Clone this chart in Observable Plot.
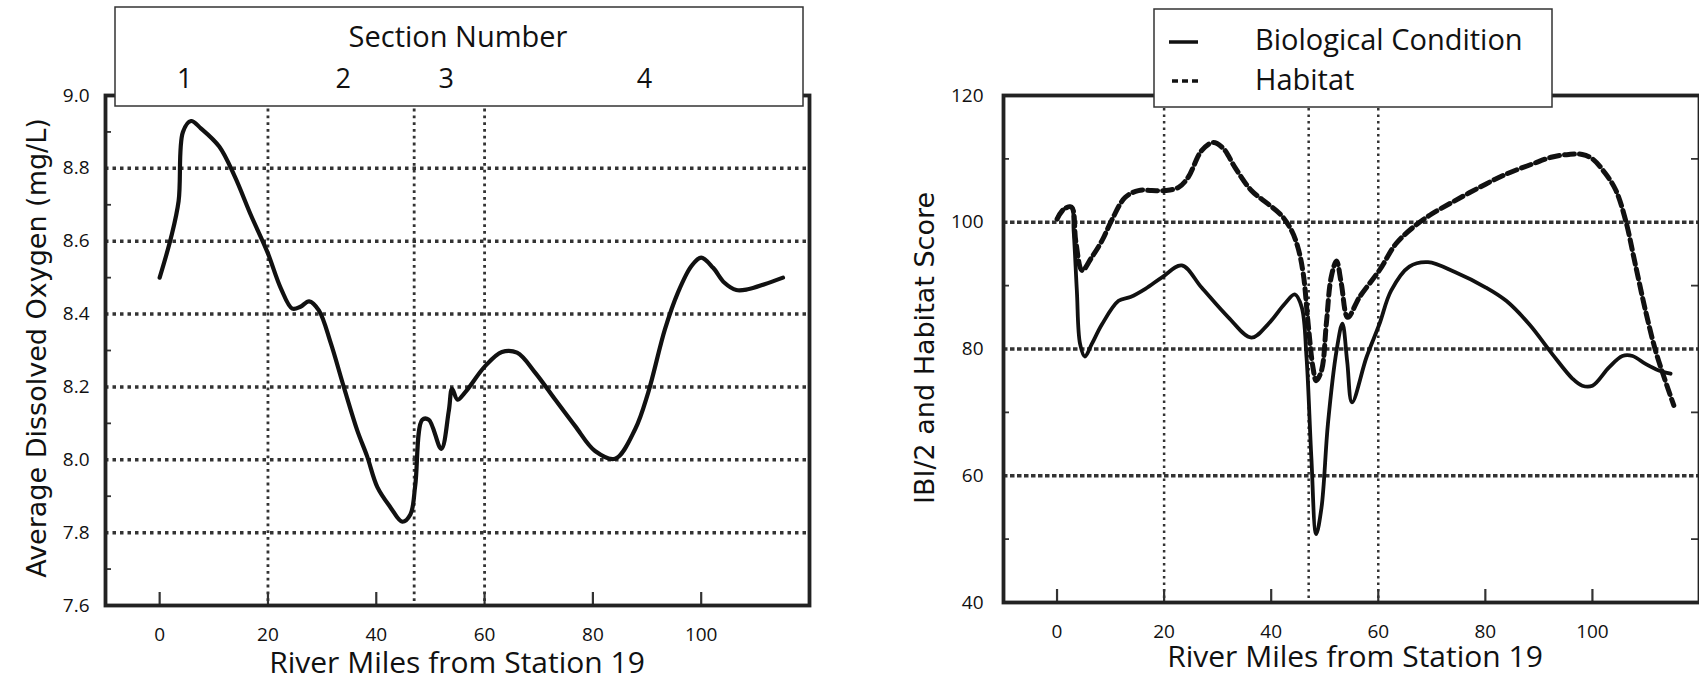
<!DOCTYPE html>
<html><head><meta charset="utf-8">
<script src="https://cdn.jsdelivr.net/npm/d3@7"></script>
<script src="https://cdn.jsdelivr.net/npm/@observablehq/plot@0.6"></script>
<style>
html,body{margin:0;padding:0;background:#fff;}
#wrap{position:relative;width:1699px;height:680px;overflow:hidden;background:#fff;}
#left,#right,#overlay{position:absolute;top:0;}
#left{left:0}
#right{left:850px}
#overlay{left:0;pointer-events:none}
#left svg text, #right svg text{font-size:19px !important;font-family:'Open Sans',sans-serif !important;fill:#111;}
</style></head>
<body>
<div id="wrap"><div id="left"></div><div id="right"></div><svg id="overlay" width="1699" height="680"></svg></div>
<script>
// ---- Data ----
const xTickValues = [0, 20, 40, 60, 80, 100];
const sectionBounds = [20, 47, 60];
const sectionLabels = ["1", "2", "3", "4"];
const sectionLabelMiles = [4.7, 34, 53, 89.6];

// Left chart: Average dissolved oxygen
const doTicks = [7.6, 7.8, 8.0, 8.2, 8.4, 8.6, 8.8, 9.0];
const doGrid = [7.8, 8.0, 8.2, 8.4, 8.6, 8.8];
const doMinorTicks = [7.7, 7.9, 8.1, 8.3, 8.5, 8.7, 8.9];
const doMiles = [0, 2.1, 3.5, 4.3, 5.8, 7.6, 11, 13.8, 16.9, 19.9, 22.4, 24.5, 26, 27.6, 29.4, 31.6, 34, 36.5, 38.3, 40.2, 42.6, 44.8, 46.3, 47.2, 48.5, 49.7, 52, 53.4, 54.0, 55.0, 56.4, 60.1, 63.2, 66, 69.3, 73, 76.7, 80.4, 84.1, 87.8, 90.2, 93.3, 95.7, 98.2, 100, 102.2, 104.3, 106.5, 108.6, 111.7, 115.1];
const doValues = [8.5, 8.61, 8.71, 8.9, 8.93, 8.91, 8.86, 8.78, 8.67, 8.57, 8.47, 8.415, 8.42, 8.435, 8.41, 8.32, 8.2, 8.08, 8.01, 7.925, 7.87, 7.83, 7.85, 7.93, 8.11, 8.11, 8.03, 8.135, 8.195, 8.165, 8.185, 8.257, 8.296, 8.294, 8.24, 8.166, 8.093, 8.024, 8.003, 8.084, 8.184, 8.358, 8.459, 8.532, 8.555, 8.527, 8.486, 8.466, 8.468, 8.482, 8.5];

// Right chart: IBI/2 (biological condition) and habitat score
const scoreTicks = [40, 60, 80, 100, 120];
const scoreGrid = [60, 80, 100];
const scoreMinorTicks = [50, 70, 90, 110];
const bioMiles = [0, 1.2, 2.7, 3.1, 3.7, 4.3, 5.2, 6.5, 8.4, 11.5, 13.7, 16.5, 19.6, 23.3, 27, 32, 36.3, 39.4, 42.5, 44.4, 45.7, 46.6, 47.5, 48.4, 49.4, 50.6, 52.2, 53.3, 54.2, 55.1, 57.8, 60.2, 62.4, 65.8, 69.3, 74.4, 80.1, 83.9, 88.2, 92.5, 96.3, 98.1, 100, 103.1, 105.6, 107.5, 110, 112.4, 114.6];
const bioValues = [100.5, 102, 102.4, 98.7, 89.2, 80.8, 78.8, 80.8, 83.9, 87.6, 88.2, 89.5, 91.3, 93.2, 89.7, 85, 81.8, 83.9, 87.1, 88.6, 86.6, 78.7, 62.9, 50.8, 55, 68.2, 79.7, 84, 78, 71.6, 78.7, 83.9, 89.2, 93, 93.7, 92.1, 89.7, 87.6, 83.9, 79.2, 75.3, 74.2, 74.2, 77.1, 78.9, 78.9, 77.6, 76.6, 76.1];
const habMiles = [0, 1.2, 2.7, 3.5, 4.7, 6.5, 8.4, 10.2, 12.7, 15.2, 17.7, 20.2, 22.7, 24.5, 27, 29.2, 31.1, 33.2, 36.3, 39.4, 41.9, 43.8, 45, 46, 46.9, 47.8, 48.4, 49.4, 50.3, 51.2, 52.2, 53.1, 54.3, 56.5, 60.2, 63.3, 66.5, 69.6, 73.9, 78.9, 83.9, 88.8, 92.5, 95.6, 98.1, 100, 102.5, 104.4, 106.2, 108, 109.9, 111.8, 113.4, 115.2];
const habValues = [100.5, 102, 102.4, 97, 92.4, 94.5, 97.1, 100.3, 103.9, 105, 105, 105, 105.5, 107.1, 111.3, 112.6, 111.6, 108.7, 105, 102.9, 101.1, 98.7, 96, 91.8, 84, 77.1, 75, 76.6, 84, 91.3, 93.9, 90.3, 85, 88.2, 92.4, 96.6, 99.2, 101.1, 103.2, 105.5, 107.6, 109.2, 110.3, 110.7, 110.7, 110, 107.6, 105, 100.3, 93.4, 86.1, 79.7, 75.5, 71.1];

const xTitle = "River Miles from Station 19";
const leftYTitle = "Average Dissolved Oxygen (mg/L)";
const rightYTitle = "IBI/2 and Habitat Score";
const legendLabels = ["Biological Condition", "Habitat"];

// ---- Tables ----
const doData = doMiles.map((m, i) => ({mile: m, value: doValues[i]}));
const bioData = bioMiles.map((m, i) => ({mile: m, value: bioValues[i]}));
const habData = habMiles.map((m, i) => ({mile: m, value: habValues[i]}));

const INK = "#111";
const FONT = "'Open Sans', sans-serif";

// ---- Left chart ----
const L = {width: 830, height: 680, mt: 95, mb: 75, ml: 105, mr: 21};
const LpH = L.height - L.mt - L.mb, LpW = L.width - L.ml - L.mr;
const leftPlot = Plot.plot({
  width: L.width, height: L.height,
  marginTop: L.mt, marginBottom: L.mb, marginLeft: L.ml, marginRight: L.mr,
  style: {fontFamily: FONT, fontSize: "19px", color: INK, background: "white", maxWidth: "none"},
  x: {domain: [-10, 120], ticks: xTickValues, tickSize: 0, tickPadding: 22, label: null},
  y: {domain: [7.6, 9.0], ticks: doTicks, tickFormat: d => d.toFixed(1), tickSize: 0, tickPadding: 16, label: null},
  marks: [
    Plot.ruleY(doGrid, {stroke: "#333", strokeWidth: 3.5, strokeDasharray: "3.5,4"}),
    Plot.ruleX(sectionBounds, {stroke: "#333", strokeWidth: 2.8, strokeDasharray: "2.8,4"}),
    Plot.ruleX(xTickValues, {stroke: "#333", strokeWidth: 2.2, insetTop: LpH - 13}),
    Plot.ruleY(doMinorTicks, {stroke: "#333", strokeWidth: 1.8, insetRight: LpW - 6}),
    Plot.line(doData, {x: "mile", y: "value", curve: "catmull-rom", stroke: INK, strokeWidth: 4.2}),
    Plot.frame({stroke: "#222", strokeWidth: 3.8})
  ]
});
document.getElementById("left").appendChild(leftPlot);

// ---- Right chart ----
const R = {width: 849, height: 680, mt: 95, mb: 78, ml: 153, mr: 0};
const RpH = R.height - R.mt - R.mb, RpW = R.width - R.ml - R.mr;
const rightPlot = Plot.plot({
  width: R.width, height: R.height,
  marginTop: R.mt, marginBottom: R.mb, marginLeft: R.ml, marginRight: R.mr,
  style: {fontFamily: FONT, fontSize: "19px", color: INK, background: "white", maxWidth: "none"},
  x: {domain: [-10, 120], ticks: xTickValues, tickSize: 0, tickPadding: 22, label: null},
  y: {domain: [40, 120], ticks: scoreTicks, tickSize: 0, tickPadding: 20, label: null},
  marks: [
    Plot.ruleY(scoreGrid, {stroke: "#333", strokeWidth: 3.3, strokeDasharray: "4.5,2.5"}),
    Plot.ruleX(sectionBounds, {stroke: "#333", strokeWidth: 2.5, strokeDasharray: "2.5,4"}),
    Plot.ruleX(xTickValues, {stroke: "#333", strokeWidth: 2.2, insetTop: RpH - 13}),
    Plot.ruleY(scoreMinorTicks, {stroke: "#333", strokeWidth: 1.8, insetRight: RpW - 6}),
    Plot.ruleY(scoreMinorTicks, {stroke: "#333", strokeWidth: 1.8, insetLeft: RpW - 8}),
    Plot.line(habData, {x: "mile", y: "value", curve: "catmull-rom", stroke: INK, strokeWidth: 5, strokeDasharray: "10,5"}),
    Plot.line(bioData, {x: "mile", y: "value", curve: "catmull-rom", stroke: INK, strokeWidth: 3.8}),
    Plot.frame({stroke: "#222", strokeWidth: 3.8})
  ]
});
document.getElementById("right").appendChild(rightPlot);

// ---- Overlay: section box, legend, titles ----
const ov = d3.select("#overlay");
const xL = leftPlot.scale("x");

// Section Number box
ov.append("rect").attr("x", 115).attr("y", 7).attr("width", 688).attr("height", 99)
  .attr("fill", "white").attr("stroke", "#333").attr("stroke-width", 1.5);
ov.append("text").attr("x", 458).attr("y", 47).attr("text-anchor", "middle")
  .attr("font-family", FONT).attr("font-size", 29).attr("fill", INK).text("Section Number");
sectionLabels.forEach((s, i) => {
  ov.append("text").attr("x", xL.apply(sectionLabelMiles[i])).attr("y", 88).attr("text-anchor", "middle")
    .attr("font-family", FONT).attr("font-size", 27).attr("fill", INK).text(s);
});

// Legend box
ov.append("rect").attr("x", 1154).attr("y", 9).attr("width", 398).attr("height", 98)
  .attr("fill", "white").attr("stroke", "#333").attr("stroke-width", 1.5);
ov.append("line").attr("x1", 1169).attr("x2", 1198).attr("y1", 42).attr("y2", 42)
  .attr("stroke", INK).attr("stroke-width", 3.5);
ov.append("line").attr("x1", 1172).attr("x2", 1198).attr("y1", 81).attr("y2", 81)
  .attr("stroke", INK).attr("stroke-width", 3.5).attr("stroke-dasharray", "6,4");
legendLabels.forEach((t, i) => {
  ov.append("text").attr("x", 1255).attr("y", i === 0 ? 50 : 90)
    .attr("font-family", FONT).attr("font-size", 29).attr("fill", INK).text(t);
});

// X axis titles
ov.append("text").attr("x", 457).attr("y", 673).attr("text-anchor", "middle")
  .attr("font-family", FONT).attr("font-size", 30).attr("fill", INK).text(xTitle);
ov.append("text").attr("x", 1355).attr("y", 667).attr("text-anchor", "middle")
  .attr("font-family", FONT).attr("font-size", 30).attr("fill", INK).text(xTitle);

// Y axis titles (rotated)
ov.append("text").attr("transform", "translate(46,348) rotate(-90)").attr("text-anchor", "middle")
  .attr("font-family", "'DejaVu Sans', sans-serif").attr("font-size", 27).attr("fill", INK).text(leftYTitle);
ov.append("text").attr("transform", "translate(934,348) rotate(-90)").attr("text-anchor", "middle")
  .attr("font-family", "'DejaVu Sans', sans-serif").attr("font-size", 27).attr("fill", INK).text(rightYTitle);
</script>
</body></html>
